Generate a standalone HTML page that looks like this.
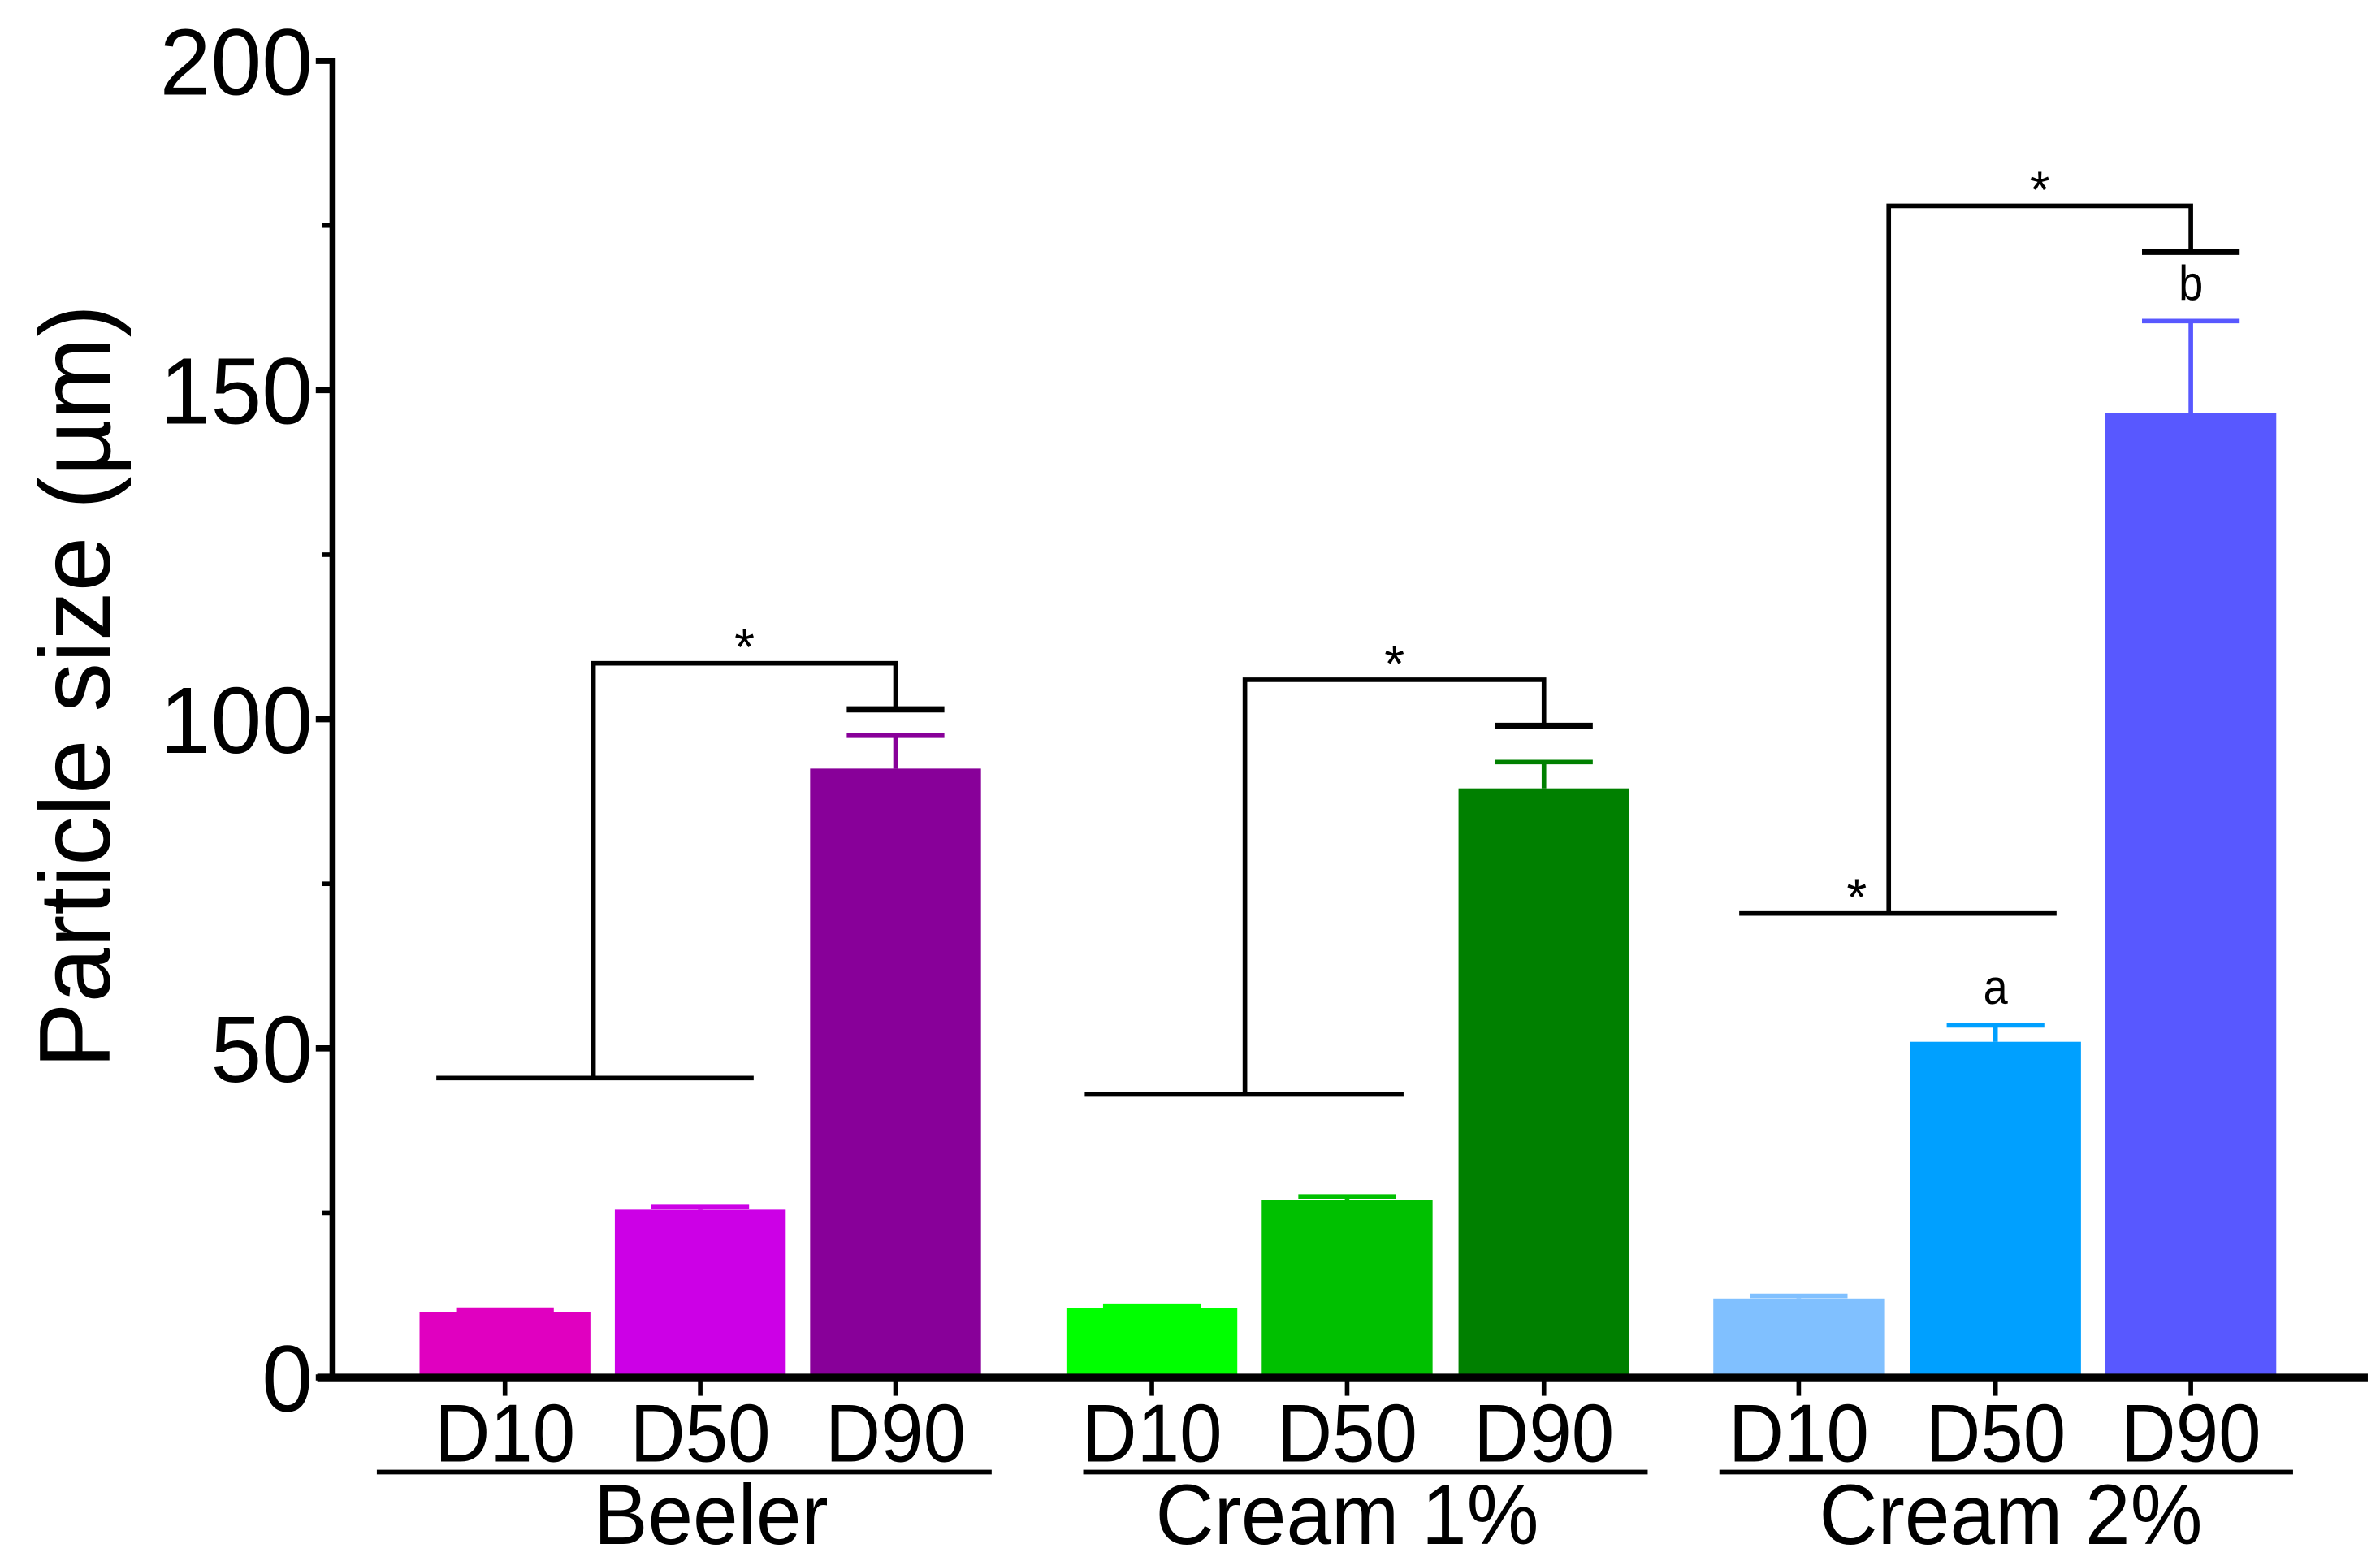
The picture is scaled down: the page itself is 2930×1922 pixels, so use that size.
<!DOCTYPE html>
<html><head><meta charset="utf-8">
<style>
html,body{margin:0;padding:0;background:#fff;}
svg{display:block;}
text{font-family:"Liberation Sans",Arial,sans-serif;fill:#000;}
</style></head>
<body>
<svg id="chart" xmlns="http://www.w3.org/2000/svg" width="2930" height="1922" viewBox="0 0 1560 1023.3" preserveAspectRatio="none">
<g id="g"></g>
</svg>
<script>
const groups = ["Beeler", "Cream 1%", "Cream 2%"];
const subcats = ["D10", "D50", "D90"];
const values = [10, 25.5, 92.5, 10.5, 27, 89.5, 12, 51, 146.5];
const errors = [0.3, 0.4, 5, 0.4, 0.5, 4, 0.4, 2.5, 14];
const colors = ["#e000c0", "#cc00e6", "#880099", "#00ff00", "#00c000", "#008000", "#80c0ff", "#00a0ff", "#5858ff"];
const yTicks = [0, 50, 100, 150, 200];
const yMinor = [25, 75, 125, 175];
const letters = ["", "", "", "", "", "", "", "a", "b"];
const lowLevels = [45.5, 43, 70.5];
const topLevels = [108.5, 106, 178];
const capLevels = [101.5, 99, 171];

const NS = "http://www.w3.org/2000/svg";
const g = document.getElementById("g");
const X0 = 218, Y0 = 903, PX = 4.315;
function y(v){ return Y0 - v*PX; }
const barStarts = [275, 403, 531, 699, 827, 956, 1123, 1252, 1380];
const BW = 112;
function el(tag, attrs, name, txt){
  const e = document.createElementNS(NS, tag);
  for (const k in attrs) e.setAttribute(k, attrs[k]);
  
  
  if (txt !== undefined) e.textContent = txt;
  g.appendChild(e);
  return e;
}
function line(x1,y1,x2,y2,name,w,c){ return el("line",{x1,y1,x2,y2,stroke:c||"#000","stroke-width":w||3},name); }
function txt(x,yy,s,size,name,anchor,sx){
  return el("text",{x:0,y:0,"font-size":size,"text-anchor":anchor||"middle",transform:`translate(${x},${yy}) scale(${sx||0.9},1)`},name,s);
}

values.forEach((v,i)=>{
  const x = barStarts[i], cx = x + BW/2;
  const eTop = y(v+errors[i]);
  line(cx, y(v), cx, eTop, "error-bar-"+i, 3, colors[i]);
  line(cx-32, eTop, cx+32, eTop, "error-cap-"+i, 3, colors[i]);
  el("rect",{x:x,y:y(v),width:BW,height:Y0-y(v),fill:colors[i]},"bar-"+subcats[i%3].toLowerCase()+"-"+(Math.floor(i/3)+1));
  if (letters[i]) txt(cx, eTop-14, letters[i], 32, "sig-letter-"+letters[i]);
  line(cx, Y0, cx, 915, "x-tick-"+i, 3);
  txt(cx, 958, subcats[i%3], 54, "x-label-"+subcats[i%3].toLowerCase(), "middle", 0.93);
});

line(X0, Y0+2, X0, 38, "y-axis", 4);
line(208, Y0, 1552, Y0, "x-axis", 5);
yTicks.forEach(v=>{
  line(207, y(v), X0, y(v), "y-tick-"+v, 4);
  txt(205, y(v)+22, String(v), 62, "y-tick-label-"+v, "end", 0.97);
});
yMinor.forEach(v=> line(211, y(v), X0, y(v), "y-minor-tick-"+v, 3));
el("text",{x:0,y:0,"font-size":66,"text-anchor":"middle",transform:"translate(72,450) rotate(-90) scale(0.98,1)"},"y-axis-title","Particle size (µm)");

const gl = [[247,650,466],[710,1080,883],[1127,1503,1318]];
groups.forEach((n,i)=>{
  line(gl[i][0],965,gl[i][1],965,"group-line-"+i,3);
  txt(gl[i][2],1012,n,56,"group-label-"+n.toLowerCase().replace(/[^a-z0-9]+/g,"-"),"middle",0.95);
});

const lowSpan = [[286,494],[711,920],[1140,1348]];
const vx = [389, 816, 1238];
groups.forEach((n,i)=>{
  const d90 = barStarts[i*3+2] + BW/2;
  line(lowSpan[i][0], y(lowLevels[i]), lowSpan[i][1], y(lowLevels[i]), "sig-base-line-"+i, 3);
  el("polyline",{points:`${vx[i]},${y(lowLevels[i])} ${vx[i]},${y(topLevels[i])} ${d90},${y(topLevels[i])} ${d90},${y(capLevels[i])}`,fill:"none",stroke:"#000","stroke-width":3},"sig-bracket-"+i);
  line(d90-32, y(capLevels[i]), d90+32, y(capLevels[i]), "sig-cap-"+i, 4);
  txt((vx[i]+d90)/2, y(topLevels[i])+1, "*", 34, "sig-star-"+i, "middle", 1);
});
txt(1217, y(lowLevels[2])+1, "*", 34, "sig-star-low", "middle", 1);
</script>
</body></html>
